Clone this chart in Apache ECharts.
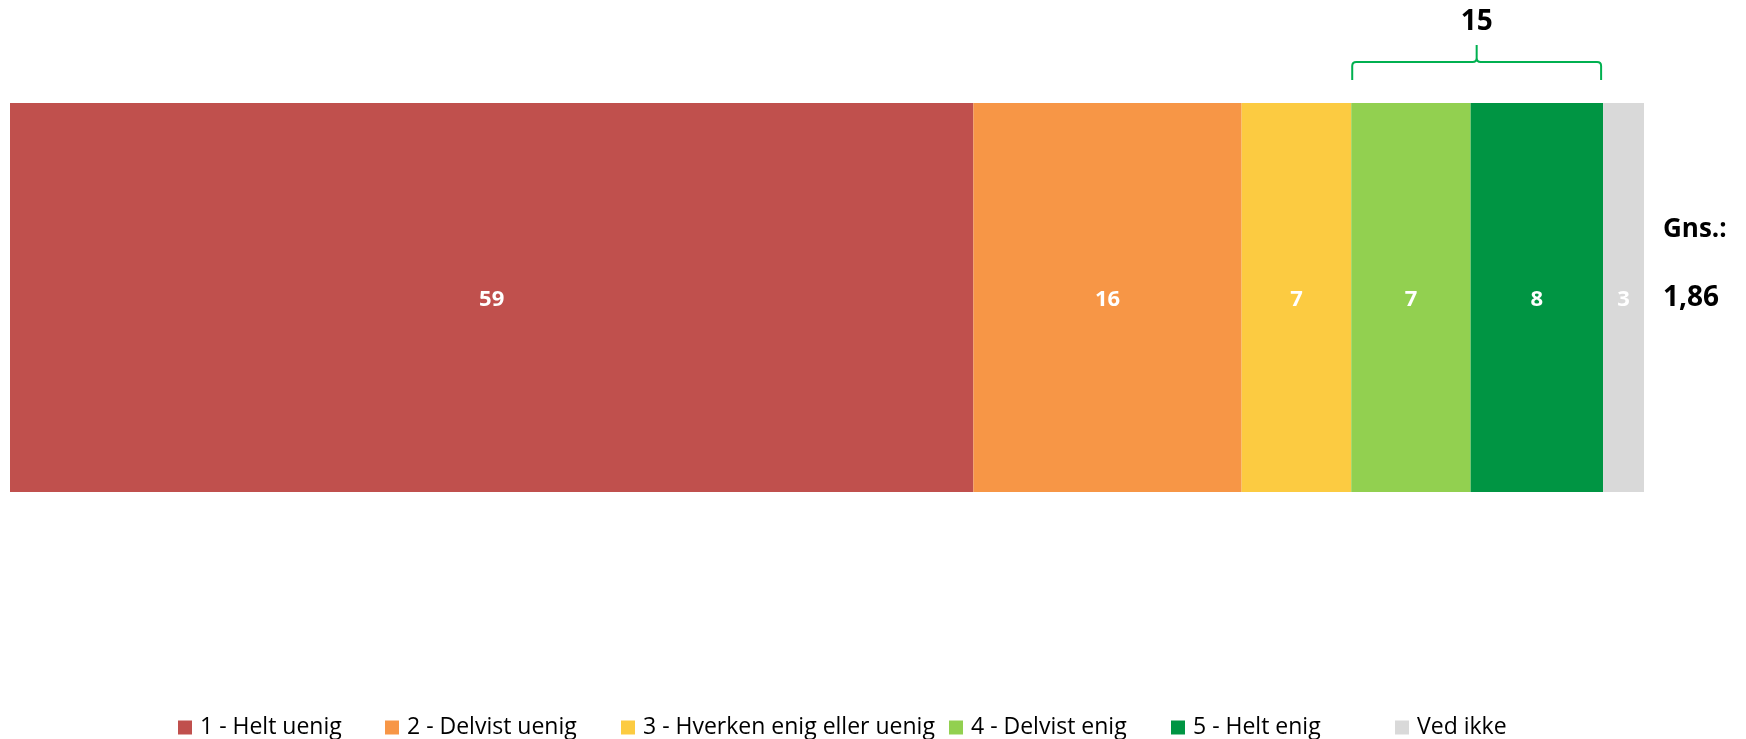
<!DOCTYPE html>
<html>
<head>
<meta charset="utf-8">
<script src="https://cdn.jsdelivr.net/npm/echarts@6/dist/echarts.min.js"></script>
<style>html,body{margin:0;padding:0;background:#fff}#c{width:1746px;height:739px}</style>
</head>
<body>
<div id="c"></div>
<script>
const categories = ['Spørsmål'];
const seriesNames = ['1 - Helt uenig', '2 - Delvist uenig', '3 - Hverken enig eller uenig', '4 - Delvist enig', '5 - Helt enig', 'Ved ikke'];
const values = [58.9, 16.4, 6.7, 7.3, 8.1, 2.5];
const colors = ['#C0504D', '#F79646', '#FCCB41', '#92D050', '#009543', '#D9D9D9'];
const bracketRange = [3, 4];          // indices of segments grouped by the bracket
const meanTitle = 'Gns.:';
const meanValue = '1,86';
const legendLefts = [178, 385, 621, 949, 1171, 1395];

const FONT = "'Open Sans', 'Liberation Sans', sans-serif";
const total = values.reduce((a, b) => a + b, 0);
const bracketStart = values.slice(0, bracketRange[0]).reduce((a, b) => a + b, 0);
const bracketEnd = bracketStart + values.slice(bracketRange[0], bracketRange[1] + 1).reduce((a, b) => a + b, 0);
const bracketLabel = String(Math.round(bracketEnd - bracketStart));

const chart = echarts.init(document.getElementById('c'), null, {renderer: 'canvas'});

const series = seriesNames.map((name, i) => ({
  name: name,
  type: 'bar',
  stack: 'total',
  barCategoryGap: '0%',
  itemStyle: {color: colors[i], borderWidth: 0},
  label: {
    show: true,
    position: 'inside',
    offset: [0, 2],
    color: '#fff',
    fontWeight: 'bold',
    fontSize: 22,
    fontFamily: FONT,
    formatter: p => String(Math.round(p.value))
  },
  data: [values[i]]
}));

series.push({
  type: 'custom',
  name: 'bracket',
  clip: false,
  silent: true,
  z: 10,
  data: [[bracketStart, bracketEnd, 0]],
  encode: {x: [0, 1], y: 2},
  renderItem: function (params, api) {
    const p1 = api.coord([api.value(0), 0]);
    const p2 = api.coord([api.value(1), 0]);
    const band = api.size([0, 1])[1];
    const top = p1[1] - band / 2;
    const x1 = p1[0] + 1, x2 = p2[0] - 2, xm = (x1 + x2) / 2;
    const yB = top - 23, yH = top - 41, yP = top - 58, r = 4;
    const d = `M${x1},${yB} L${x1},${yH + r} Q${x1},${yH} ${x1 + r},${yH} L${xm - r},${yH} Q${xm},${yH} ${xm},${yH - r} L${xm},${yP} ` +
              `M${xm},${yH - r} Q${xm},${yH} ${xm + r},${yH} L${x2 - r},${yH} Q${x2},${yH} ${x2},${yH + r} L${x2},${yB}`;
    return {
      type: 'group',
      children: [
        {type: 'path', shape: {pathData: d}, style: {stroke: '#00B050', lineWidth: 2, fill: null}},
        {type: 'text', style: {text: bracketLabel, x: xm, y: top - 81, align: 'center', verticalAlign: 'middle',
          fontSize: 28, fontWeight: 'bold', fontFamily: FONT, fill: '#000'}}
      ]
    };
  }
});

const legends = seriesNames.map((name, i) => ({
  data: [name],
  left: legendLefts[i],
  top: 716,
  padding: 0,
  itemWidth: 14,
  itemHeight: 14,
  icon: 'rect',
  selectedMode: false,
  textStyle: {fontSize: 23, color: '#000', fontFamily: FONT, padding: [0, 0, 0, 3]}
}));

chart.setOption({
  animation: false,
  color: colors,
  grid: {left: 10, right: 102, top: 103, bottom: 247, containLabel: false},
  xAxis: {type: 'value', min: 0, max: total, show: false},
  yAxis: {type: 'category', data: categories, show: false},
  legend: legends,
  graphic: [
    {type: 'text', x: 1663, y: 230, style: {text: meanTitle, verticalAlign: 'middle', fontSize: 26, fontWeight: 'bold', fontFamily: FONT, fill: '#000'}},
    {type: 'text', x: 1663, y: 298, style: {text: meanValue, verticalAlign: 'middle', fontSize: 28, fontWeight: 'bold', fontFamily: FONT, fill: '#000'}}
  ],
  series: series
});
</script>
</body>
</html>
